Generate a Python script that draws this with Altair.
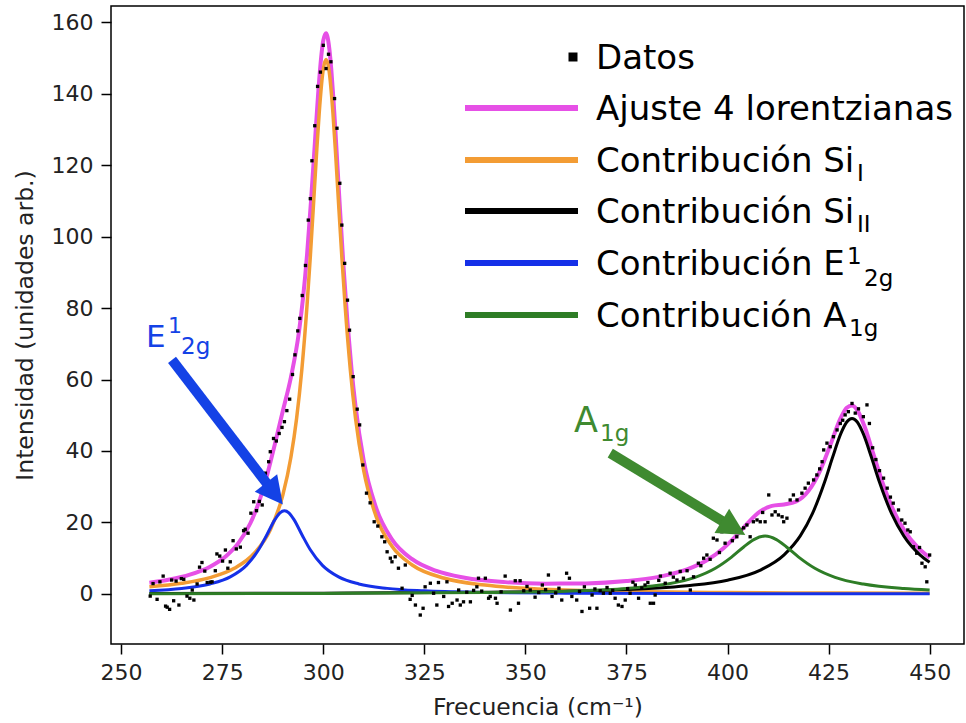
import altair as alt
import pandas as pd

# ---- measured Raman spectrum (points) ----
data_x = [
    257.2, 257.9, 258.9, 259.6, 260.4, 261.0, 261.4, 262.0, 262.5, 263.0,
    263.6, 264.3, 264.9, 265.5, 266.3, 267.0, 267.6, 268.0, 268.8, 269.4,
    270.0, 270.7, 271.3, 272.1, 272.5, 273.3, 273.7, 274.4, 275.1, 275.8,
    276.4, 277.0, 277.7, 278.5, 279.5, 280.3, 280.7, 281.4, 282.1, 282.8,
    283.5, 284.2, 284.9, 285.7, 286.5, 286.9, 287.7, 288.4, 289.1, 289.8,
    290.4, 291.0, 291.7, 292.4, 293.0, 293.7, 294.2, 294.8, 295.6, 296.3,
    296.8, 297.2, 297.9, 298.6, 299.3, 300.0, 300.7, 301.3, 301.9, 302.8,
    303.4, 304.1, 304.6, 305.3, 306.0, 306.5, 307.4, 308.4, 309.0, 309.8,
    310.7, 311.6, 312.6, 313.5, 314.5, 315.2, 315.8, 316.6, 317.0, 317.8,
    318.6, 319.5, 320.3, 321.5, 322.0, 322.8, 324.0, 324.7, 325.2, 326.5,
    327.3, 328.1, 328.5, 329.8, 330.6, 331.0, 331.9, 333.1, 333.5, 333.9,
    334.7, 335.5, 336.4, 337.2, 338.0, 338.4, 339.2, 340.1, 340.9, 341.3,
    342.6, 343.0, 344.0, 345.0, 346.3, 347.5, 348.3, 348.7, 349.6, 350.4,
    351.2, 352.4, 353.3, 354.2, 355.0, 355.7, 356.6, 357.5, 358.3, 359.0,
    360.2, 360.9, 361.5, 362.7, 363.4, 364.0, 364.6, 365.9, 366.5, 367.2,
    367.7, 368.5, 369.3, 370.2, 371.0, 371.6, 372.2, 373.0, 373.9, 374.7,
    375.3, 375.9, 376.6, 377.2, 378.0, 378.8, 379.6, 380.3, 380.9, 381.7,
    382.1, 383.0, 383.4, 384.6, 385.8, 386.6, 387.5, 388.3, 389.1, 390.0,
    390.8, 391.6, 392.8, 393.4, 394.1, 394.9, 395.7, 396.5, 397.4, 398.0,
    398.6, 399.4, 400.2, 401.2, 402.3, 403.3, 404.0, 404.8, 405.6, 406.4,
    407.3, 408.1, 408.7, 409.3, 410.2, 411.0, 411.8, 412.6, 413.5, 413.9,
    414.7, 415.5, 416.3, 417.2, 418.4, 419.2, 420.0, 421.3, 422.1, 422.8,
    423.4, 423.8, 424.6, 425.4, 426.2, 427.1, 427.9, 428.5, 429.1, 429.9,
    430.8, 431.6, 432.4, 433.6, 434.5, 435.1, 435.9, 436.7, 437.6, 438.6,
    439.5, 440.3, 441.0, 442.3, 443.1, 443.9, 444.6, 445.2, 446.0, 446.8,
    447.5, 448.1, 448.9, 449.3, 450.0,
]
data_y = [
    -0.6, 2.9, -1.5, 3.4, 5.0, -3.4, -3.7, -4.3, 3.9, -1.9,
    3.6, -3.1, 4.3, 4.1, -0.6, -1.2, 1.1, -1.7, 2.8, 7.5,
    8.8, 6.4, 3.2, 3.3, 3.4, 6.5, 11.2, 10.6, 9.2, 12.3,
    7.2, 9.0, 14.9, 12.6, 13.1, 17.7, 18.1, 17.0, 22.6, 25.8,
    23.3, 25.9, 24.9, 33.8, 37.0, 39.8, 43.5, 42.8, 44.9, 46.6,
    48.2, 51.3, 54.5, 61.4, 66.9, 73.6, 77.1, 83.5, 91.9, 104.6,
    110.6, 121.2, 131.0, 142.0, 146.0, 153.5, 147.0, 151.0, 148.9, 138.6,
    130.3, 114.9, 103.2, 92.5, 82.2, 73.8, 60.8, 51.7, 47.3, 36.1,
    28.2, 25.5, 20.2, 19.0, 16.0, 14.6, 11.8, 10.0, 9.0, 10.4,
    7.2, 1.6, 8.1, -1.5, -0.4, -3.1, -5.9, -4.0, 2.0, 3.0,
    0.2, -3.1, 3.2, -0.7, 3.4, -3.5, -2.6, -1.7, 1.1, -3.1,
    -2.2, 0.5, -2.2, 1.0, 2.0, 4.4, 0.8, 4.4, -1.2, -0.7,
    -1.2, -2.6, 0.6, 5.0, -4.5, 3.7, -2.6, 3.7, 0.9, 2.1,
    1.1, -0.9, 0.4, 2.5, 1.2, 5.3, -0.7, 0.3, 1.6, -1.7,
    5.8, 4.4, -0.7, -1.7, 0.7, -4.9, 2.0, -4.0, -0.3, 1.4,
    -4.0, 0.9, 0.2, 1.8, 0.2, 1.0, -1.2, -3.1, -3.5, -1.7,
    1.5, 0.2, 3.3, 2.5, -1.2, 1.7, 2.5, 3.2, -2.6, -2.6,
    -0.3, 3.8, 5.0, 3.0, 5.8, 4.7, 3.9, 6.3, 4.4, 6.5,
    1.1, 4.8, 8.6, 7.9, 10.0, 10.9, 9.7, 15.6, 15.1, 11.6,
    17.4, 14.2, 19.8, 14.9, 16.0, 17.9, 18.5, 19.3, 16.0, 20.2,
    20.7, 20.2, 22.8, 20.2, 27.7, 22.1, 23.0, 22.1, 21.6, 20.2,
    21.2, 26.3, 27.7, 26.3, 28.2, 29.6, 31.0, 31.9, 33.3, 35.0,
    37.0, 40.3, 42.2, 41.2, 44.0, 45.9, 47.7, 48.6, 50.1, 51.0,
    53.3, 50.6, 51.8, 49.6, 52.9, 47.7, 40.9, 37.6, 34.5, 32.4,
    29.6, 27.1, 25.4, 23.5, 20.7, 19.8, 17.9, 17.4, 13.2, 11.4,
    13.0, 8.6, 7.6, 3.4, 10.9,
]

# ---- total fit (sum of four Lorentzians) ----
total_x = [
    257, 262, 267, 272, 276, 279, 282, 284, 286, 288, 290, 292, 294, 295, 296,
    297, 298, 299, 299.5, 300, 300.7, 301, 301.5, 302, 302.5, 303, 304, 305,
    306, 307, 308, 310, 313, 317, 322, 328, 335, 345, 355, 365, 375, 383, 390,
    395, 399, 402, 405, 408, 411, 414, 417, 420, 423, 425.5, 428, 429.5, 430.8,
    432, 434, 436, 438.5, 441, 444, 447, 450,
]
total_y = [
    3.15, 4.04, 5.40, 7.64, 10.63, 14.22, 19.85, 25.38, 32.77, 41.77, 51.19,
    60.62, 73.34, 82.8, 95.0, 110.3, 127.4, 143.8, 150.3, 154.8, 156.9, 156.1,
    152.6, 146.6, 138.8, 129.8, 110.3, 91.8, 75.9, 62.8, 52.4, 37.4, 24.35,
    15.28, 9.72, 6.44, 4.54, 3.31, 2.89, 2.96, 3.61, 4.79, 6.85, 9.48, 12.77,
    16.09, 19.83, 23.02, 24.63, 25.04, 25.88, 28.79, 34.73, 41.89, 49.24,
    52.11, 52.76, 51.62, 46.56, 39.45, 30.64, 23.50, 17.32, 13.10, 10.16,
]

# ---- individual contributions ----
si1_x = [257, 265, 272, 278, 283, 287, 290, 292, 293.4, 294.7, 296, 296.8,
         297.5, 298.3, 299, 300, 300.7, 301.4, 302.4, 303.1, 303.9, 304.6,
         305.4, 306.7, 308, 310, 313, 317, 322, 330, 340, 355, 375, 400, 425, 450]
si1_y = [2.01, 2.99, 4.58, 7.18, 11.46, 18.20, 27.67, 38.24, 49.03, 62.71,
         80.85, 94.32, 107.25, 122.39, 134.56, 146.74, 149.5, 146.74, 134.56,
         122.39, 107.25, 94.32, 80.85, 62.71, 49.03, 34.57, 21.93, 13.33, 8.11,
         4.40, 2.48, 1.31, 0.70, 0.39, 0.25, 0.17]

si2_x = [257, 300, 340, 370, 390, 400, 408, 414, 418, 421, 424, 426, 428,
         429.5, 430.8, 432.1, 433.6, 435.6, 437.6, 440.6, 443.6, 447.6, 450]
si2_y = [0.13, 0.23, 0.48, 1.05, 2.28, 3.86, 6.62, 10.95, 16.24, 22.46, 31.25,
         38.23, 44.77, 48.10, 49.1, 48.10, 44.77, 38.23, 31.25, 22.46, 16.24,
         10.95, 8.85]

e2g_x = [257, 265, 272, 277, 281, 284, 286, 288, 289.3, 290.4, 291.5, 292.8,
         294.8, 296.8, 299.8, 303.8, 308.8, 315.8, 325, 340, 360, 390, 420, 450]
e2g_y = [0.93, 1.56, 2.80, 4.77, 8.00, 12.35, 16.42, 20.72, 22.71, 23.3, 22.71,
         20.72, 16.42, 12.35, 8.00, 4.77, 2.80, 1.56, 0.87, 0.43, 0.22, 0.11,
         0.06, 0.04]

a1g_x = [257, 300, 340, 360, 375, 385, 392, 397, 401, 404, 406.5, 409.3, 412.1,
         414.6, 417.6, 421.6, 426.6, 433.6, 443.6, 450]
a1g_y = [0.08, 0.16, 0.40, 0.77, 1.51, 2.76, 4.66, 7.20, 10.32, 13.15, 15.21,
         16.2, 15.21, 13.15, 10.32, 7.20, 4.66, 2.76, 1.51, 1.10]

x_ticks = [250, 275, 300, 325, 350, 375, 400, 425, 450]
y_ticks = [0, 20, 40, 60, 80, 100, 120, 140, 160]

# ---- layout ----
X_DOMAIN = [247.5, 458.5]
Y_DOMAIN = [-14.0, 164.5]
W, H = 853, 638
PAD_L, PAD_T = 111, 6
AXIS_FONT = "DejaVu Sans"
TEXT_FONT = "DejaVu Sans"

C_FIT = "#e650e6"
C_SI1 = "#f39c34"
C_SI2 = "#000000"
C_E2G = "#1530e8"
C_A1G = "#2e7d26"
C_E2G_NOTE = "#1442e6"
C_A1G_NOTE = "#3f8a30"

x_axis = alt.Axis(values=x_ticks, title="Frecuencia (cm⁻¹)", format="d")
y_axis = alt.Axis(values=y_ticks, title="Intensidad (unidades arb.)", format="d")


def xenc(field="x"):
    return alt.X(f"{field}:Q", scale=alt.Scale(domain=X_DOMAIN, nice=False, zero=False),
                 axis=x_axis)


def yenc(field="y"):
    return alt.Y(f"{field}:Q", scale=alt.Scale(domain=Y_DOMAIN, nice=False, zero=False),
                 axis=y_axis)


def table(xs, ys):
    return pd.DataFrame({"x": xs, "y": ys})


def curve(xs, ys, color, width):
    return alt.Chart(table(xs, ys)).mark_line(
        color=color, strokeWidth=width, interpolate="monotone", clip=True
    ).encode(x=xenc(), y=yenc())


def arrow(start, shaft_end, tip, angle, color):
    shaft = alt.Chart(pd.DataFrame({"x": [start[0]], "y": [start[1]],
                                    "x2": [shaft_end[0]], "y2": [shaft_end[1]]})).mark_rule(
        color=color, strokeWidth=10
    ).encode(x=xenc(), y=yenc(), x2="x2:Q", y2="y2:Q")
    head = alt.Chart(table([tip[0]], [tip[1]])).mark_point(
        shape="M0,0L0.52,1L-0.52,1Z", size=3000, filled=True, color=color,
        opacity=1, strokeWidth=0, angle=angle
    ).encode(x=xenc(), y=yenc())
    return [shaft, head]


def text(s, px, py, size, color="black", font=TEXT_FONT):
    return alt.Chart(pd.DataFrame({"k": [0]})).mark_text(
        text=s, font=font, fontSize=size, color=color, align="left",
        baseline="alphabetic"
    ).encode(x=alt.value(px - PAD_L), y=alt.value(py - PAD_T))


def legend_line(py, color):
    return alt.Chart(pd.DataFrame({"k": [0]})).mark_rule(
        color=color, strokeWidth=6
    ).encode(x=alt.value(465 - PAD_L), x2=alt.value(578 - PAD_L),
             y=alt.value(py - PAD_T))


points = alt.Chart(table(data_x, data_y)).mark_square(
    size=11, color="black", opacity=1
).encode(x=xenc(), y=yenc())

layers = [
    curve(total_x, total_y, C_FIT, 4),
    curve(si1_x, si1_y, C_SI1, 3.5),
    curve(si2_x, si2_y, C_SI2, 3),
    curve(e2g_x, e2g_y, C_E2G, 3),
    curve(a1g_x, a1g_y, C_A1G, 3),
    points,
]

# annotation arrows and labels
layers += arrow((262.6, 65.5), (286.4, 30.4), (290.0, 25.0), 142, C_E2G_NOTE)
layers += arrow((371.0, 39.4), (399.3, 20.0), (404.4, 16.5), 121, C_A1G_NOTE)
layers += [
    text("E", 146, 347, 31, C_E2G_NOTE),
    text("1", 168, 333, 22, C_E2G_NOTE),
    text("2g", 181, 354, 23, C_E2G_NOTE),
    text("A", 574, 432, 35, C_A1G_NOTE),
    text("1g", 600, 441, 23, C_A1G_NOTE),
]

# legend
MAIN = 34
SUB = 23
legend_marker = alt.Chart(pd.DataFrame({"k": [0]})).mark_square(
    size=81, color="black", opacity=1
).encode(x=alt.value(573 - PAD_L), y=alt.value(57 - PAD_T))
layers += [
    legend_marker,
    text("Datos", 596, 69, MAIN),
    legend_line(108, C_FIT),
    text("Ajuste 4 lorentzianas", 596, 120, MAIN),
    legend_line(160, C_SI1),
    text("Contribución Si", 596, 172, MAIN),
    text("I", 857, 181, SUB),
    legend_line(211, C_SI2),
    text("Contribución Si", 596, 223, MAIN),
    text("II", 857, 232, SUB),
    legend_line(263, C_E2G),
    text("Contribución E", 596, 275, MAIN),
    text("1", 847, 264, SUB),
    text("2g", 864, 286, SUB),
    legend_line(315, C_A1G),
    text("Contribución A", 596, 327, MAIN),
    text("1g", 849, 336, SUB),
]

chart = alt.layer(*layers).properties(
    width=W,
    height=H,
    padding={"left": PAD_L, "top": PAD_T, "right": 966 - PAD_L - W,
             "bottom": 723 - PAD_T - H},
    autosize=alt.AutoSizeParams(type="none"),
    background="white",
).configure_view(
    stroke="black", strokeWidth=1.5
).configure_axis(
    grid=False,
    domain=False,
    ticks=True,
    tickSize=10,
    tickWidth=1.5,
    tickColor="black",
    labelFont=AXIS_FONT,
    labelFontSize=22,
    labelColor="#222222",
    titleFont=AXIS_FONT,
    titleFontSize=23.5,
    titleFontWeight="normal",
    titleColor="#222222",
).configure_axisX(
    labelPadding=8, titlePadding=12
).configure_axisY(
    labelPadding=8, titlePadding=14
)

chart.save("out.html", embed_options={"renderer": "svg", "actions": False})
